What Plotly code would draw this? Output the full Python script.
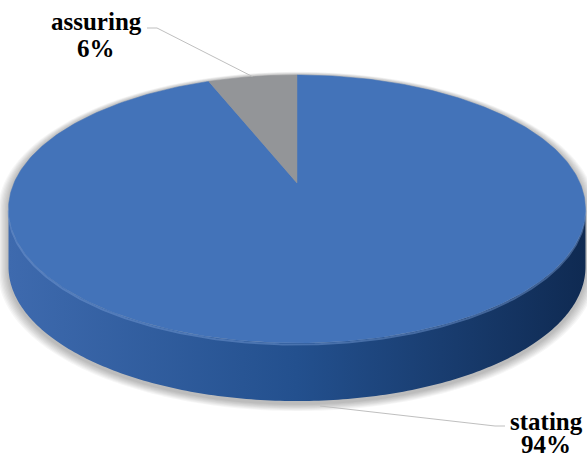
import numpy as np
import plotly.graph_objects as go

# ---- data ----
categories = ["stating", "assuring"]
values = [94, 6]
pct_labels = ["94%", "6%"]

# ---- layout / geometry parameters (pixels) ----
W, H = 587, 459
CX, CY = 297, 183          # projected pie centre
A0, B0 = 283, 129          # radii before perspective
K = 0.194                  # perspective strength
DEPTH = 58                 # thickness of the pie

TOP_COLORS = ["#4373b9", "#939598"]
SIDE_SCALES = [
    [[0, "#3e6aae"], [0.5, "#23508e"], [1, "#0f2a52"]],
    [[0, "#7d7f82"], [1, "#4d4f52"]],
]


def proj(theta, dz=0.0, scale=1.0):
    X = np.sin(theta) * scale
    Y = np.cos(theta) * scale
    w = 1 + K * Y
    return CX + A0 * X / w, CY - B0 * Y / w + dz


fig = go.Figure()

total = float(sum(values))
bounds = np.concatenate([[0], np.cumsum(values) / total]) * 2 * np.pi

th_r = np.pi / 2 + np.arcsin(K)       # right silhouette
th_l = 3 * np.pi / 2 - np.arcsin(K)   # left silhouette

# ---- soft shadow ----
for i, s in enumerate(np.linspace(1.035, 1.003, 8)):
    t_far = np.linspace(th_l, th_r + 2 * np.pi, 200)
    t_near = np.linspace(th_r, th_l, 200)
    x1, y1 = proj(t_far, 0, s)
    x2, y2 = proj(t_near, DEPTH + 3, s)
    fig.add_trace(go.Scatter(
        x=np.concatenate([x1, x2]), y=np.concatenate([y1, y2]),
        fill="toself", mode="none", fillcolor="rgba(0,0,0,0.035)",
        hoverinfo="skip", showlegend=False))

# ---- side walls ----
for i in range(len(values)):
    a, b = bounds[i], bounds[i + 1]
    lo, hi = max(a, th_r), min(b, th_l)
    if hi <= lo:
        continue
    t = np.linspace(lo, hi, 200)
    xt, yt = proj(t, 0)
    xb, yb = proj(t[::-1], DEPTH)
    fig.add_trace(go.Scatter(
        x=np.concatenate([xt, xb]), y=np.concatenate([yt, yb]),
        fill="toself", mode="none",
        fillgradient=dict(type="horizontal", colorscale=SIDE_SCALES[i]),
        hoverinfo="skip", showlegend=False))

# ---- rim highlight ----
t = np.linspace(th_r, th_l, 300)
xh, yh = proj(t, 1.5)
fig.add_trace(go.Scatter(x=xh, y=yh, mode="lines",
                         line=dict(color="rgba(120,158,215,0.45)", width=2),
                         hoverinfo="skip", showlegend=False))

# ---- top faces ----
for i in range(len(values)):
    a, b = bounds[i], bounds[i + 1]
    t = np.linspace(a, b, 400)
    xa, ya = proj(t, 0)
    xs = np.concatenate([[CX], xa, [CX]])
    ys = np.concatenate([[CY], ya, [CY]])
    fig.add_trace(go.Scatter(
        x=xs, y=ys, fill="toself", mode="lines",
        line=dict(color=TOP_COLORS[i], width=0.5),
        fillcolor=TOP_COLORS[i], name=categories[i],
        hoverinfo="skip", showlegend=False))

# ---- leader lines ----
mid1 = (bounds[1] + bounds[2]) / 2
ax1, ay1 = proj(mid1, 0)
fig.add_trace(go.Scatter(x=[147, 157, ax1], y=[28, 28, ay1], mode="lines",
                         line=dict(color="#bfbfbf", width=1),
                         hoverinfo="skip", showlegend=False))
fig.add_trace(go.Scatter(x=[320, 495, 505], y=[406, 426, 426], mode="lines",
                         line=dict(color="#bfbfbf", width=1),
                         hoverinfo="skip", showlegend=False))

# ---- labels ----
font = dict(family="Liberation Serif", size=25, color="black")
label_pos = [((546, 421), (546, 444)), ((96, 21), (96, 48))]
for i in range(len(values)):
    (x1, y1), (x2, y2) = label_pos[i]
    fig.add_annotation(x=x1, y=y1, text="<b>%s</b>" % categories[i],
                       showarrow=False, font=font, xanchor="center", yanchor="middle")
    fig.add_annotation(x=x2, y=y2, text="<b>%s</b>" % pct_labels[i],
                       showarrow=False, font=font, xanchor="center", yanchor="middle")

fig.update_layout(
    width=W, height=H, margin=dict(l=0, r=0, t=0, b=0),
    paper_bgcolor="white", plot_bgcolor="white",
    xaxis=dict(range=[0, W], visible=False, fixedrange=True),
    yaxis=dict(range=[H, 0], visible=False, fixedrange=True),
    showlegend=False,
)

fig.write_html("out.html")
